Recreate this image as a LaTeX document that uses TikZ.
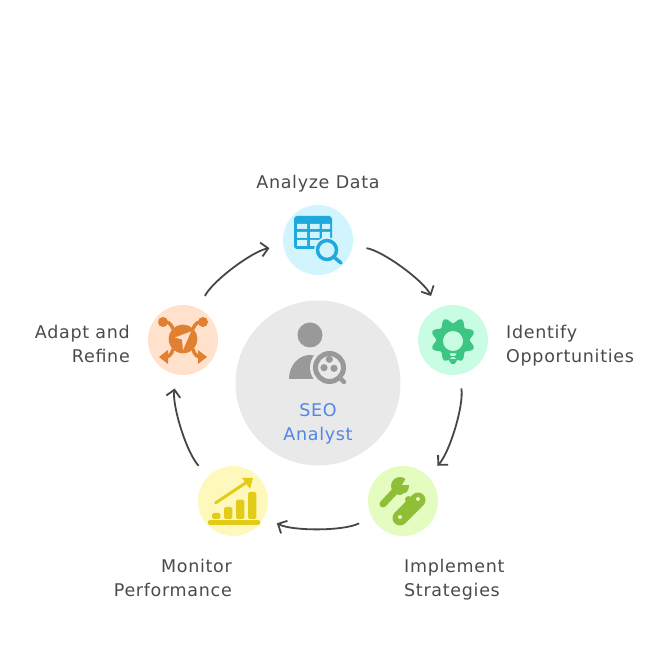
\documentclass[tikz,border=0pt]{standalone}
\usepackage{fontspec}
\setmainfont[LetterSpace=4]{DejaVu Sans}
\usetikzlibrary{arrows.meta}
\definecolor{inktext}{HTML}{4A4A4A}
\definecolor{bluetext}{HTML}{4F86E8}
\definecolor{corefill}{HTML}{E9E9E9}
\definecolor{coreicon}{HTML}{999999}
\definecolor{skyfill}{HTML}{D2F4FF}
\definecolor{skyicon}{HTML}{1FA9DC}
\definecolor{mintfill}{HTML}{C8FDE3}
\definecolor{minticon}{HTML}{3CC583}
\definecolor{limefill}{HTML}{E4FCC0}
\definecolor{limeicon}{HTML}{8FBF36}
\definecolor{sunfill}{HTML}{FFF8BC}
\definecolor{sunicon}{HTML}{E3CC17}
\definecolor{peachfill}{HTML}{FFE1CC}
\definecolor{peachicon}{HTML}{E08030}

\tikzset{
    stage/.style={circle, minimum size=70pt, inner sep=0pt},
    lbl/.style={text=inktext, inner sep=0pt, font=\fontsize{17.5}{24}\selectfont},
    flow/.style={draw=inktext!95!black, line width=1.8pt, bend left=27, looseness=0.75, shorten >=14pt, shorten <=14pt,
        -{Straight Barb[length=7pt,width=14pt,line width=1.8pt]}},
}

\begin{document}
\begin{tikzpicture}[x=1pt,y=1pt]
    \useasboundingbox (0,0) rectangle (672,648);

    \node[circle, minimum size=165pt, inner sep=0pt, fill=corefill] (core) at (318,265) {};
    \node[stage, fill=skyfill] (analyze) at (318,408) {};
    \node[stage, fill=mintfill] (identify) at (453,308) {};
    \node[stage, fill=limefill] (implement) at (403,147) {};
    \node[stage, fill=sunfill] (monitor) at (233,147) {};
    \node[stage, fill=peachfill] (adapt) at (183,308) {};

    \node[lbl] (analyzetext) at (318,464) {Analyze Data};
    \node[lbl, anchor=west, align=left] (identifytext) at (506,302) {Identify\\Opportunities};
    \node[lbl, anchor=west, align=left] (implementtext) at (404,68) {Implement\\Strategies};
    \node[lbl, anchor=east, align=right] (monitortext) at (232,70) {Monitor\\Performance};
    \node[lbl, anchor=east, align=right] (adapttext) at (130,304) {Adapt and\\Refine};
    \node[lbl, text=bluetext, align=center] (coretext) at (318,224) {SEO\\Analyst};

    \draw[flow] (analyze) to (identify);
    \draw[flow] (identify) to (implement);
    \draw[flow] (implement) to (monitor);
    \draw[flow] (monitor) to (adapt);
    \draw[flow] (adapt) to (analyze);

    % person with magnifier
    \begin{scope}[shift={(core)}]
        \fill[coreicon] (-8,48) circle (12.5);
        \fill[coreicon] (-29,4) .. controls (-29,18) and (-19,28) .. (-8,28) .. controls (3,28) and (13,18) .. (13,4) -- cycle;
        \fill[corefill] (11.5,15.5) circle (19.5);
        \draw[coreicon, line width=5pt] (11.5,15.5) circle (14);
        \draw[coreicon, line width=4.5pt, line cap=round] (22,5) -- (26,1);
        \fill[coreicon] (11.3,23.7) circle (3.6) (6,15.3) circle (3.6) (16,14.7) circle (3.6);
    \end{scope}

    % table with magnifier
    \begin{scope}[shift={(analyze)}]
        \fill[skyicon, rounded corners=3pt] (-24,24) rectangle (14,-9);
        \fill[skyfill] (-21,16) rectangle (-11,11) (-8,16) rectangle (1.5,11) (4,16) rectangle (12,11);
        \fill[skyfill] (-21,8) rectangle (-11,2) (-8,8) rectangle (1.5,2) (4,8) rectangle (12,2);
        \fill[skyfill] (-21,0) rectangle (-11,-6) (-8,0) rectangle (1.5,-6);
        \fill[skyfill] (9,-10) circle (13);
        \draw[skyicon, line width=3.5pt] (9,-10) circle (9.5);
        \draw[skyicon, line width=3.5pt, line cap=round] (16,-17) -- (23,-23);
    \end{scope}

    % gear with bulb
    \begin{scope}[shift={(identify)}]
        \fill[minticon] plot[domain=0:360, samples=145] ({\x}:{19.5+2.7*cos(8*(\x-22.5))}) -- cycle;
        \fill[minticon] (-5,-19) -- (5,-19) -- (1.5,-24) -- (-1.5,-24) -- cycle;
        \fill[mintfill] (0,-1) circle (10);
        \fill[mintfill] (-3.5,-13.5) -- (3.5,-13.5) -- (2,-16) -- (-2,-16) -- cycle;
    \end{scope}

    % wrench and bandage
    \begin{scope}[shift={(implement)}]
        \draw[limeicon, line width=7pt, line cap=round] (-20,-3) -- (-5,13);
        \fill[limeicon] (-3,15) circle (9);
        \fill[limefill] (-1,16) -- (5,26) -- (11,16) -- cycle;
        \draw[limeicon, line width=15pt, line cap=round] (-3,-17) -- (15,1);
        \fill[limefill] (-3,-16) circle (2) (15,2) circle (2);
        \fill[limefill] (-1,-2) arc (225:45:6) -- cycle;
        \fill[limeicon] (3,-1) arc (225:45:3.5) -- cycle;
    \end{scope}

    % bars and rising arrow
    \begin{scope}[shift={(monitor)}]
        \fill[sunicon, rounded corners=1.5pt] (-21,-18) rectangle (-12.7,-12);
        \fill[sunicon, rounded corners=1.5pt] (-9,-18) rectangle (-0.7,-6);
        \fill[sunicon, rounded corners=1.5pt] (3,-18) rectangle (11.3,1.3);
        \fill[sunicon, rounded corners=1.5pt] (15,-18) rectangle (23.3,9);
        \draw[sunicon, line width=4.5pt, line cap=round] (-23,-21.5) -- (25,-21.5);
        \draw[sunicon, line width=3pt, line cap=round] (-17.5,-2) -- (14,19);
        \fill[sunicon] (20,23) -- (9,23) -- (17,12) -- cycle;
    \end{scope}

    % node with arrows
    \begin{scope}[shift={(adapt)}]
        \draw[peachicon, line width=3.5pt] (-10,11) .. controls (-13,18) and (-15,18) .. (-20,18);
        \draw[peachicon, line width=3.5pt] (10,11) .. controls (13,18) and (15,18) .. (20,18);
        \draw[peachicon, line width=3.5pt] (-10,-9) .. controls (-12,-16) and (-14,-17) .. (-20,-17);
        \draw[peachicon, line width=3.5pt] (10,-9) .. controls (12,-16) and (14,-17) .. (20,-17);
        \fill[peachicon] (-20,18) circle (5) (20,18) circle (5);
        \fill[peachicon] (-24,-17) -- (-15,-10) -- (-15,-24) -- cycle;
        \fill[peachicon] (24,-17) -- (15,-10) -- (15,-24) -- cycle;
        \fill[peachicon] (0,1) circle (14.3);
        \fill[peachfill] (8,8.5) -- (-8,2.5) -- (-1,0.5) -- (0,-10) -- cycle;
    \end{scope}
\end{tikzpicture}
\end{document}
